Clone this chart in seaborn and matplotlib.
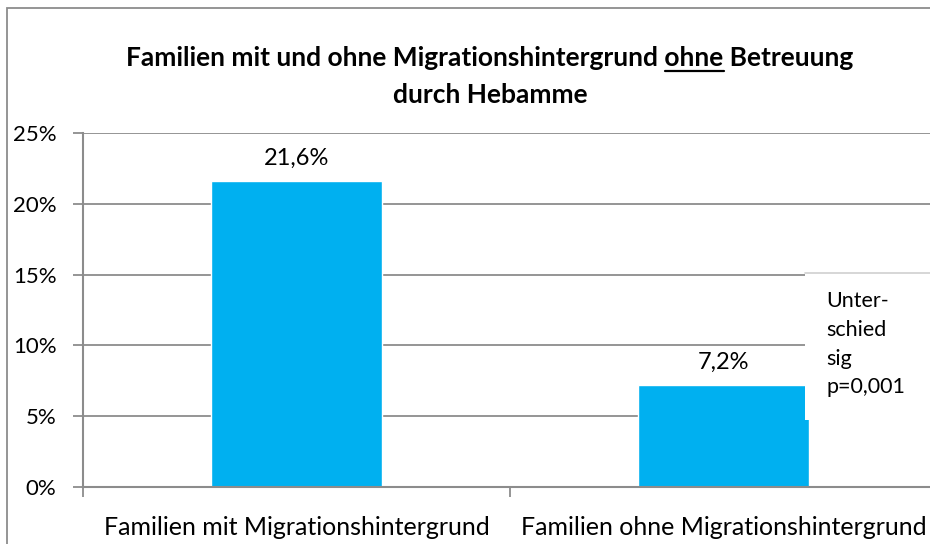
import numpy as np
import pandas as pd
import seaborn as sns
import matplotlib.pyplot as plt
from matplotlib.patches import Rectangle
from matplotlib.lines import Line2D

categories = ["Familien mit Migrationshintergrund", "Familien ohne Migrationshintergrund"]
values = [21.6, 7.2]
value_labels = ["21,6%", "7,2%"]
yticks = [0, 5, 10, 15, 20, 25]
note = "Unter-\nschied\nsig\np=0,001"

sns.set_theme(style="white")
plt.rcParams['font.family'] = ['Lato', 'DejaVu Sans']
plt.rcParams['text.color'] = 'black'
plt.rcParams['xtick.labelcolor'] = 'black'
plt.rcParams['ytick.labelcolor'] = 'black'

fig = plt.figure(figsize=(9.3, 5.44), dpi=100)
ax = fig.add_axes([83/930, 1-487/544, (937-83)/930, (487-133)/544])

df = pd.DataFrame({"cat": categories, "val": values})
sns.barplot(data=df, x="cat", y="val", color="#00B0F0", width=0.4, saturation=1, ax=ax)

grid_c = "#8c8c8c"
ax.set_ylim(0, 25)
ax.set_xlim(-0.5, 1.5)
ax.set_yticks(yticks)
ax.set_yticklabels([f"{t}%" for t in yticks], fontsize=16)
ax.yaxis.grid(True, color=grid_c, linewidth=1.3)
ax.set_axisbelow(True)
ax.tick_params(axis="y", left=True, length=7, width=1.3, color=grid_c, pad=12)
ax.set_xticks([0, 1])
ax.set_xticklabels(categories, fontsize=18)
ax.set_xticks([-0.5, 0.5, 1.5], minor=True)
ax.tick_params(axis="x", which="major", bottom=False, pad=15)
ax.tick_params(axis="x", which="minor", bottom=True, length=7, width=1.3, color=grid_c)
ax.set_xlabel("")
ax.set_ylabel("")
for s in ["top", "right"]:
    ax.spines[s].set_visible(False)
for s in ["left", "bottom"]:
    ax.spines[s].set_color(grid_c)
    ax.spines[s].set_linewidth(1.5)

for i, (v, lab) in enumerate(zip(values, value_labels)):
    ax.annotate(lab, (i, v), xytext=(0, 9), textcoords="offset points",
                ha="center", va="bottom", fontsize=17)

# white note box that covers part of the second bar
box = Rectangle((805/930, 1-420/544), 0.2, (420-273)/544, transform=fig.transFigure,
                facecolor="white", edgecolor="none", zorder=5)
fig.patches.append(box)
fig.add_artist(Line2D([805/930, 1], [1-273/544]*2, transform=fig.transFigure,
                      color="#cfcfcf", linewidth=1.2, zorder=6))
fig.text(826/930, 1-291/544, note, fontsize=15.5, va="top", ha="left",
         linespacing=1.55, zorder=7)

# title, with "ohne" underlined
pre = "Familien mit und ohne Migrationshintergrund "
word = "ohne"
post = " Betreuung"
tkw = dict(fontsize=19, fontweight="bold")
t1 = fig.text(490/930, 1-58/544, pre + word + post, ha="center", va="center", **tkw)
fig.text(490/930, 1-95/544, "durch Hebamme", ha="center", va="center", **tkw)
fig.canvas.draw()
r = fig.canvas.get_renderer()
bb = t1.get_window_extent(r)
w_pre = fig.text(0, 0, pre.rstrip() + " x", **tkw).get_window_extent(r).width
w_x = fig.text(0, 0, "x", **tkw).get_window_extent(r).width
w_word = fig.text(0, 0, word, **tkw).get_window_extent(r).width
for t in fig.texts[-3:]:
    t.remove()
x0 = bb.x0 + w_pre - w_x
uy = bb.y0 - 1
fig.add_artist(Line2D([x0 / fig.bbox.width, (x0 + w_word) / fig.bbox.width],
                      [uy / fig.bbox.height] * 2, transform=fig.transFigure,
                      color="black", linewidth=1.6))

# outer chart frame
fig.patches.append(Rectangle((7/930, -0.1), 1.2, 1 - 8/544 + 0.1, transform=fig.transFigure,
                             facecolor="none", edgecolor="#8c8c8c", linewidth=1.3, zorder=10))

fig.savefig("out.png", dpi=100)
